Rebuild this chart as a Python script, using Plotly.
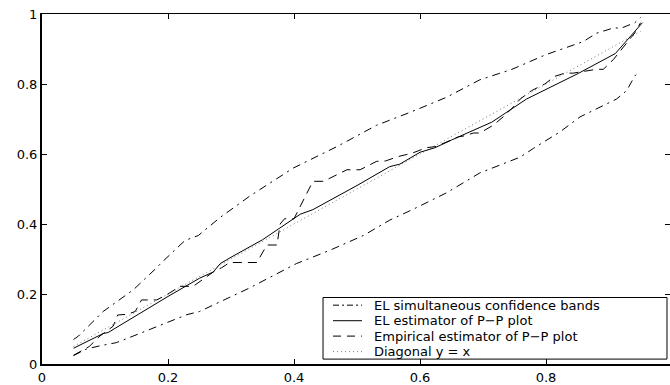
import plotly.graph_objects as go

# EL estimator of the P-P plot (solid)
x_el = [0.05, 0.075, 0.097, 0.105, 0.15, 0.20, 0.25, 0.272, 0.283, 0.30, 0.35,
        0.378, 0.41, 0.43, 0.50, 0.552, 0.568, 0.60, 0.624, 0.65, 0.714, 0.769,
        0.817, 0.851, 0.91, 0.953]
y_el = [0.045, 0.068, 0.087, 0.09, 0.139, 0.193, 0.245, 0.263, 0.287, 0.305, 0.355,
        0.39, 0.428, 0.441, 0.51, 0.564, 0.571, 0.605, 0.618, 0.64, 0.691, 0.757,
        0.80, 0.83, 0.887, 0.975]

# Empirical estimator of the P-P plot (dashed)
x_emp = [0.05, 0.075, 0.092, 0.113, 0.12, 0.135, 0.148, 0.158, 0.182, 0.20, 0.219,
         0.24, 0.261, 0.272, 0.285, 0.298, 0.341, 0.357, 0.373, 0.378, 0.385, 0.40,
         0.43, 0.447, 0.484, 0.505, 0.531, 0.545, 0.566, 0.587, 0.61, 0.624, 0.65,
         0.661, 0.671, 0.685, 0.695, 0.716, 0.732, 0.748, 0.759, 0.777, 0.798, 0.814,
         0.83, 0.843, 0.88, 0.891, 0.907, 0.941, 0.95]
y_emp = [0.025, 0.05, 0.08, 0.108, 0.14, 0.142, 0.15, 0.183, 0.183, 0.20, 0.222,
         0.222, 0.249, 0.263, 0.275, 0.29, 0.29, 0.34, 0.34, 0.40, 0.415, 0.415,
         0.522, 0.522, 0.555, 0.555, 0.579, 0.58, 0.593, 0.602, 0.618, 0.621, 0.64,
         0.649, 0.652, 0.66, 0.66, 0.682, 0.706, 0.734, 0.757, 0.781, 0.80, 0.822,
         0.831, 0.831, 0.842, 0.842, 0.87, 0.946, 0.975]

# EL simultaneous confidence bands (dash-dot)
x_up = [0.05, 0.058, 0.097, 0.145, 0.182, 0.19, 0.227, 0.248, 0.283, 0.33, 0.399,
        0.452, 0.468, 0.531, 0.566, 0.587, 0.642, 0.695, 0.746, 0.80, 0.859, 0.88,
        0.907, 0.92, 0.941, 0.95]
y_up = [0.07, 0.08, 0.15, 0.212, 0.275, 0.29, 0.353, 0.367, 0.419, 0.48, 0.56,
        0.607, 0.621, 0.682, 0.706, 0.721, 0.762, 0.812, 0.842, 0.884, 0.921, 0.945,
        0.96, 0.96, 0.975, 0.99]
x_lo = [0.05, 0.071, 0.092, 0.118, 0.145, 0.20, 0.23, 0.25, 0.328, 0.404, 0.457,
        0.51, 0.552, 0.589, 0.642, 0.695, 0.759, 0.78, 0.822, 0.854, 0.912, 0.928,
        0.941, 0.948]
y_lo = [0.024, 0.043, 0.052, 0.061, 0.08, 0.12, 0.141, 0.15, 0.216, 0.287, 0.325,
        0.367, 0.411, 0.442, 0.489, 0.546, 0.591, 0.616, 0.663, 0.706, 0.757, 0.781,
        0.823, 0.837]

# Diagonal reference y = x
x_diag = [0.05, 0.95]
y_diag = [0.05, 0.95]

x_ticks = [0, 0.2, 0.4, 0.6, 0.8]
x_tick_labels = ["0", "0.2", "0.4", "0.6", "0.8"]
y_ticks = [0, 0.2, 0.4, 0.6, 0.8, 1]
y_tick_labels = ["0", "0.2", "0.4", "0.6", "0.8", "1"]

legend_labels = ["EL simultaneous confidence bands", "EL estimator of P\u2212P plot",
                 "Empirical estimator of P\u2212P plot", "Diagonal y = x"]

DASHDOT = "8px,5px,2px,5px"
DASHED = "9px,6px"
DOTTED = "1px,3px"

fig = go.Figure()
fig.add_trace(go.Scatter(x=x_diag, y=y_diag, mode="lines",
                         line=dict(color="#777777", width=1, dash=DOTTED)))
fig.add_trace(go.Scatter(x=x_up, y=y_up, mode="lines",
                         line=dict(color="black", width=1, dash=DASHDOT)))
fig.add_trace(go.Scatter(x=x_lo, y=y_lo, mode="lines",
                         line=dict(color="black", width=1, dash=DASHDOT)))
fig.add_trace(go.Scatter(x=x_emp, y=y_emp, mode="lines",
                         line=dict(color="black", width=1, dash=DASHED)))
fig.add_trace(go.Scatter(x=x_el, y=y_el, mode="lines",
                         line=dict(color="black", width=1)))
# carrier for the top / right tick axes
fig.add_trace(go.Scatter(x=[], y=[], xaxis="x2", yaxis="y2", hoverinfo="skip"))

tick_font = dict(family="DejaVu Sans", size=13, color="black")
xr = [0, 0.99683]

fig.update_layout(
    width=670, height=385,
    margin=dict(l=42, r=0, t=14, b=17),
    plot_bgcolor="white", paper_bgcolor="white",
    showlegend=False,
    xaxis=dict(range=xr, tickvals=x_ticks, ticktext=x_tick_labels,
               ticks="inside", ticklen=5, tickcolor="black", tickwidth=1,
               showline=True, linecolor="black", linewidth=2,
               showgrid=False, zeroline=False, tickfont=tick_font),
    xaxis2=dict(range=xr, overlaying="x", side="top", anchor="y",
                tickvals=x_ticks, ticks="inside", ticklen=5, tickcolor="black",
                showticklabels=False, showline=True, linecolor="black",
                linewidth=1, showgrid=False, zeroline=False),
    yaxis=dict(range=[0, 1], tickvals=y_ticks, ticktext=y_tick_labels,
               ticks="inside", ticklen=5, tickcolor="black", tickwidth=1,
               showline=True, linecolor="black", linewidth=2,
               showgrid=False, zeroline=False, tickfont=tick_font),
    yaxis2=dict(range=[0, 1], overlaying="y", side="right", anchor="x",
                tickvals=y_ticks, ticks="inside", ticklen=5, tickcolor="black",
                showticklabels=False, showline=False, showgrid=False,
                zeroline=False),
)

# legend box, drawn in paper coordinates
box = dict(x0=0.4475, x1=0.9952, y0=0.014, y1=0.190)
rows = [0.1681, 0.1237, 0.0797, 0.0353]
styles = [dict(color="black", width=1, dash="6px,3px,2px,3px"),
          dict(color="black", width=1),
          dict(color="black", width=1, dash="8px,6px"),
          dict(color="#777777", width=1, dash=DOTTED)]

fig.add_shape(type="rect", xref="paper", yref="paper", layer="above",
              fillcolor="white", line=dict(color="black", width=1), **box)
for yy, st, label in zip(rows, styles, legend_labels):
    fig.add_shape(type="line", xref="paper", yref="paper", layer="above",
                  x0=0.4634, x1=0.5096, y0=yy, y1=yy, line=st)
    fig.add_annotation(xref="paper", yref="paper", x=0.525, y=yy, text=label,
                       showarrow=False, xanchor="left", yanchor="middle",
                       font=dict(family="DejaVu Sans", size=13, color="black"))

fig.write_html("out.html")
